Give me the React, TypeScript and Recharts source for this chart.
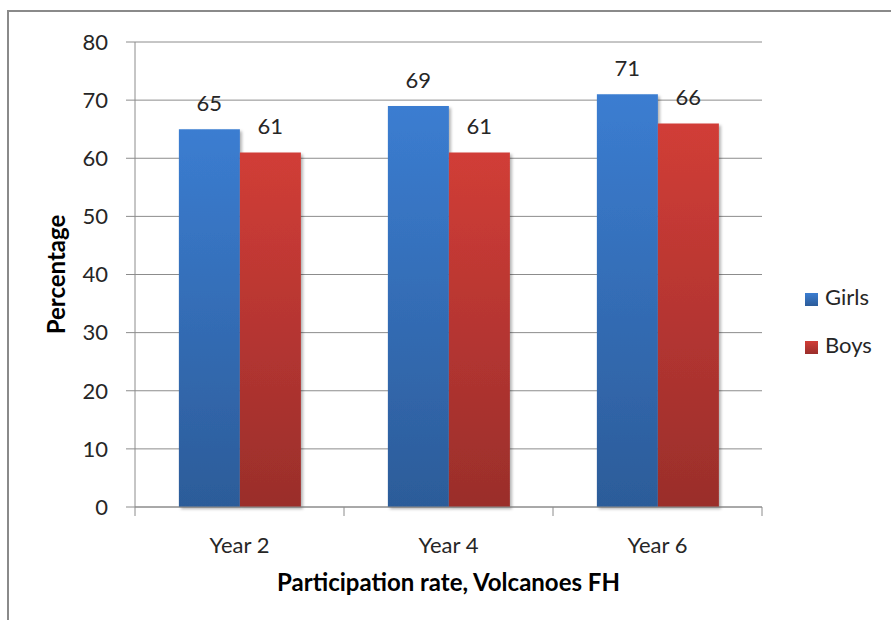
import { BarChart, Bar, XAxis, YAxis, CartesianGrid, Legend, LabelList } from 'recharts'

const years = ['Year 2', 'Year 4', 'Year 6']
const girls = [65, 69, 71]
const boys = [61, 61, 66]
const yTicks = [0, 10, 20, 30, 40, 50, 60, 70, 80]
const seriesOrder = ['Girls', 'Boys']

const data = years.map((year, i) => ({ year, Girls: girls[i], Boys: boys[i] }))

const font = 'Lato, "Open Sans", sans-serif'
const axisGray = '#8c8c8c'

const W = 891
const H = 620
const PLOT_LEFT = 135
const PLOT_RIGHT = 762

function XTick(props: any) {
  const { x, y, payload, index } = props
  const band = (PLOT_RIGHT - PLOT_LEFT) / years.length
  return (
    <g>
      <line x1={x - band / 2} y1={y - 8} x2={x - band / 2} y2={y + 1} stroke={axisGray} />
      {index === years.length - 1 && (
        <line x1={x + band / 2} y1={y - 8} x2={x + band / 2} y2={y + 1} stroke={axisGray} />
      )}
      <text x={x} y={y + 38} textAnchor="middle" fill="#262626" fontSize={22} fontFamily={font}>
        {payload.value}
      </text>
    </g>
  )
}

export default function App() {
  return (
    <div style={{ position: 'absolute', left: 0, top: 0, width: W, height: H, background: '#fff' }}>
      <div
        style={{
          position: 'absolute',
          left: 7,
          top: 10,
          width: W,
          height: H,
          border: '2px solid #8a8a8a',
          boxSizing: 'border-box',
        }}
      />
      <div style={{ position: 'absolute', left: 0, top: 0 }}>
        <BarChart
          width={W}
          height={H}
          data={data}
          margin={{ top: 42, right: W - PLOT_RIGHT, bottom: 0, left: 0 }}
          barCategoryGap="21%"
          barGap={0}
        >
          <defs>
            <linearGradient id="gBlue" x1="0" y1="0" x2="0" y2="1">
              <stop offset="0%" stopColor="#3b7dd1" />
              <stop offset="100%" stopColor="#2c5c99" />
            </linearGradient>
            <linearGradient id="gRed" x1="0" y1="0" x2="0" y2="1">
              <stop offset="0%" stopColor="#d13d37" />
              <stop offset="100%" stopColor="#9a2e2b" />
            </linearGradient>
            <filter id="shadow" x="-10%" y="-5%" width="130%" height="115%">
              <feDropShadow dx="2" dy="2" stdDeviation="1.5" floodColor="#000" floodOpacity="0.3" />
            </filter>
          </defs>
          <CartesianGrid vertical={false} stroke="#8c8c8c" />
          <XAxis
            dataKey="year"
            height={113}
            axisLine={{ stroke: axisGray }}
            tickLine={false}
            tick={<XTick />}
            interval={0}
            label={{
              value: 'Participation rate, Volcanoes FH',
              position: 'insideTop',
              offset: 67,
              fill: '#000',
              fontSize: 24,
              fontWeight: 700,
              fontFamily: font,
            }}
          />
          <YAxis
            width={PLOT_LEFT}
            domain={[0, 80]}
            ticks={yTicks}
            axisLine={{ stroke: axisGray }}
            tickLine={{ stroke: axisGray }}
            tickSize={9}
            tickMargin={18}
            tick={{ fill: '#262626', fontSize: 22, fontFamily: font }}
            label={{
              value: 'Percentage',
              angle: -90,
              position: 'insideLeft',
              offset: 56,
              style: { textAnchor: 'middle' },
              fill: '#000',
              fontSize: 24,
              fontWeight: 700,
              fontFamily: font,
            }}
          />
          <Legend
            layout="vertical"
            align="center"
            verticalAlign="middle"
            iconType="square"
            iconSize={13}
            itemSorter={(item: any) => seriesOrder.indexOf(item.value)}
            wrapperStyle={{ left: 805, top: 273, width: 86, fontFamily: font, fontSize: 22, lineHeight: '48px' }}
            formatter={(v: string) => <span style={{ color: '#262626', marginLeft: 3 }}>{v}</span>}
          />
          <Bar dataKey="Girls" fill="url(#gBlue)" isAnimationActive={false} filter="url(#shadow)">
            <LabelList dataKey="Girls" position="top" offset={18} fill="#262626" fontSize={22} fontFamily={font} />
          </Bar>
          <Bar dataKey="Boys" fill="url(#gRed)" isAnimationActive={false} filter="url(#shadow)">
            <LabelList dataKey="Boys" position="top" offset={18} fill="#262626" fontSize={22} fontFamily={font} />
          </Bar>
        </BarChart>
      </div>
    </div>
  )
}
